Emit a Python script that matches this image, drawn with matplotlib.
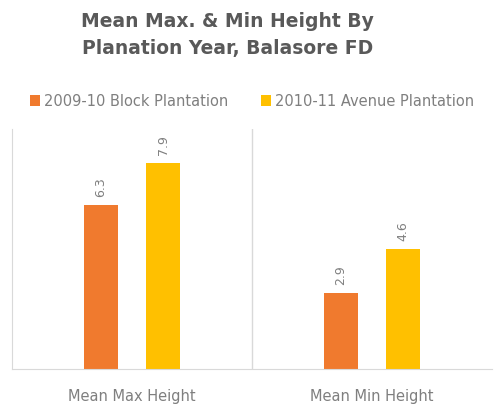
import numpy as np
from matplotlib import pyplot as plt

categories = ["Mean Max Height", "Mean Min Height"]
series_names = ["2009-10 Block Plantation", "2010-11 Avenue Plantation"]
block_2009 = [6.3, 2.9]
avenue_2010 = [7.9, 4.6]

colors = ["#F07A2E", "#FFC000"]
grey = "#7F7F7F"

fig = plt.figure(figsize=(4.94, 4.06), dpi=100, facecolor="white")
ax = fig.add_axes([12 / 494, 1 - 370 / 406, 480 / 494, 240 / 406])

x = np.arange(len(categories))
width = 0.14
offset = 0.13
for vals, col, sign, name in zip([block_2009, avenue_2010], colors, [-1, 1], series_names):
    bars = ax.bar(x + sign * offset, vals, width=width, color=col, label=name)
    for b, v in zip(bars, vals):
        ax.text(b.get_x() + b.get_width() / 2, v + 0.35, f"{v}", rotation=90,
                ha="center", va="bottom", fontsize=9, color=grey)

ax.set_xlim(-0.5, 1.5)
ax.set_ylim(0, 9.2)
ax.axvline(0.5, color="#D9D9D9", lw=1)
for s in ["top", "right"]:
    ax.spines[s].set_visible(False)
for s in ["left", "bottom"]:
    ax.spines[s].set_color("#D9D9D9")
ax.set_yticks([])
ax.set_xticks(x)
ax.set_xticklabels(categories, fontsize=10.5, color=grey)
ax.tick_params(axis="x", length=0, pad=14)

fig.text(0.46, 1 - 35 / 406, "Mean Max. & Min Height By\nPlanation Year, Balasore FD",
         ha="center", va="center", fontsize=13.5, fontweight="bold", color="#595959",
         linespacing=1.5)

fig.legend(loc="center", bbox_to_anchor=(0.51, 1 - 102 / 406), ncol=2, frameon=False,
           fontsize=10.5, labelcolor=grey, handlelength=0.7, handleheight=0.7,
           handletextpad=0.3, columnspacing=2.2)

plt.savefig("out.png", dpi=100)
plt.close()
